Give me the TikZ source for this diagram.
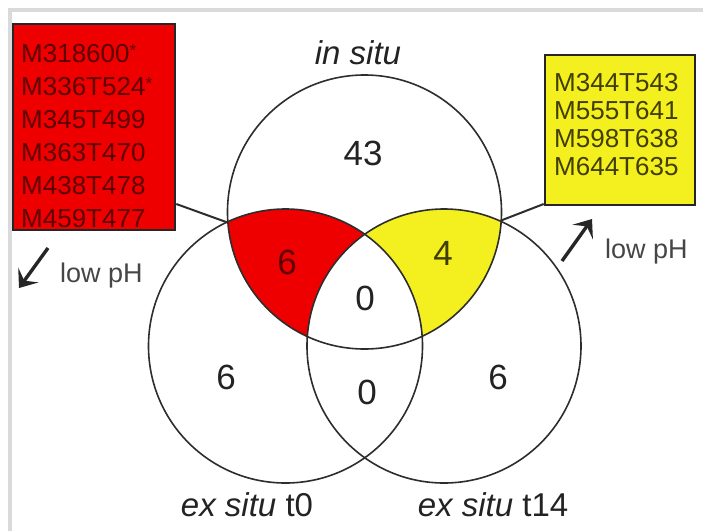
\documentclass[tikz,border=0pt]{standalone}
\usepackage{fontspec}
\setmainfont{Liberation Sans}
\usetikzlibrary{arrows.meta}
\definecolor{vred}{RGB}{238,0,0}
\definecolor{vyel}{RGB}{244,240,32}
\definecolor{redtxt}{RGB}{95,0,0}
\definecolor{yeltxt}{RGB}{65,62,0}
\definecolor{linec}{RGB}{45,45,45}
\definecolor{framec}{RGB}{218,218,218}
\definecolor{numc}{RGB}{35,35,35}
\definecolor{graytxt}{RGB}{70,70,70}
\begin{document}
\begin{tikzpicture}[x=1pt,y=-1pt,
  circ/.style={draw=linec, line width=1.6pt},
  num/.style={font=\fontsize{35}{35}\selectfont, text=numc, inner sep=0pt},
  setlabel/.style={font=\fontsize{33}{33}\selectfont, text=numc, inner sep=0pt},
  listbox/.style={draw=black!85, line width=2.6pt, inner sep=0pt},
  redline/.style={font=\fontsize{26}{26}\selectfont, text=redtxt, inner sep=0pt, anchor=base west},
  yelline/.style={font=\fontsize{26}{26}\selectfont, text=yeltxt, inner sep=0pt, anchor=base west},
  phtext/.style={font=\fontsize{27}{27}\selectfont, text=graytxt, inner sep=0pt, anchor=base west},
  phar/.style={-{Stealth[length=16pt,width=25pt,inset=7pt]}, line width=3.4pt, draw=black!85},
  conn/.style={draw=linec, line width=2pt},
  frameline/.style={draw=framec, line width=4pt}]
\useasboundingbox (0,0) rectangle (703,531);
\fill[white] (0,0) rectangle (703,531);
\draw[frameline] (8,10) -- (703,10);
\draw[frameline] (10,8) -- (10,531);

\coordinate (T) at (364.5,212);
\coordinate (L) at (285.5,346);
\coordinate (R) at (444,346);

% coloured regions
\begin{scope}
  \clip (T) circle[radius=137pt];
  \clip (L) circle[radius=137pt];
  \fill[vred] (T) circle[radius=137pt];
  \fill[white] (R) circle[radius=137pt];
\end{scope}
\begin{scope}
  \clip (T) circle[radius=137pt];
  \clip (R) circle[radius=137pt];
  \fill[vyel] (T) circle[radius=137pt];
  \fill[white] (L) circle[radius=137pt];
\end{scope}

\draw[circ] (T) circle[radius=137pt];
\draw[circ] (L) circle[radius=137pt];
\draw[circ] (R) circle[radius=137pt];

% numbers
\node[num] (n43) at (363,153) {43};
\node[num, text=redtxt] (nred) at (287,262) {6};
\node[num, text=yeltxt] (nyel) at (443,253) {4};
\node[num] (nc) at (365,298) {0};
\node[num] (nl) at (226,377) {6};
\node[num] (nb) at (367,392) {0};
\node[num] (nr) at (498,377) {6};

% set labels
\node[setlabel] (lin) at (358,53) {\textit{in situ}};
\node[setlabel] (lex0) at (247,505) {\textit{ex situ} t0};
\node[setlabel] (lex14) at (493,505) {\textit{ex situ} t14};

% red box
\node[listbox, fill=vred, minimum width=162pt, minimum height=206pt] (redbox) at (94,127) {};
\node[redline] (r1) at (21,62.5) {M318600\raisebox{6pt}{\fontsize{17}{17}\selectfont *}};
\node[redline] (r2) at (21,95.5) {M336T524\raisebox{6pt}{\fontsize{17}{17}\selectfont *}};
\node[redline] (r3) at (21,128.5) {M345T499};
\node[redline] (r4) at (21,161.5) {M363T470};
\node[redline] (r5) at (21,194.5) {M438T478};
\node[redline] (r6) at (21,227.5) {M459T477};

% yellow box
\node[listbox, fill=vyel, minimum width=150pt, minimum height=150pt] (yelbox) at (620,130) {};
\node[yelline] (y1) at (554,91.5) {M344T543};
\node[yelline] (y2) at (554,119.5) {M555T641};
\node[yelline] (y3) at (554,147.5) {M598T638};
\node[yelline] (y4) at (554,175.5) {M644T635};

% connectors
\coordinate (xl) at (227.5,222.5);
\coordinate (xr) at (501,220.5);
\draw[conn] (redbox.east |- 0,204) -- (xl);
\draw[conn] (yelbox.west |- 0,204) -- (xr);

% low pH arrows
\coordinate (a1s) at (48,248);
\coordinate (a1e) at (19,288);
\draw[phar] (a1s) -- (a1e);
\node[phtext] (ph1) at (60,282) {low pH};
\coordinate (a2s) at (562,261);
\coordinate (a2e) at (592,219);
\draw[phar] (a2s) -- (a2e);
\node[phtext] (ph2) at (605,258) {low pH};
\end{tikzpicture}
\end{document}
